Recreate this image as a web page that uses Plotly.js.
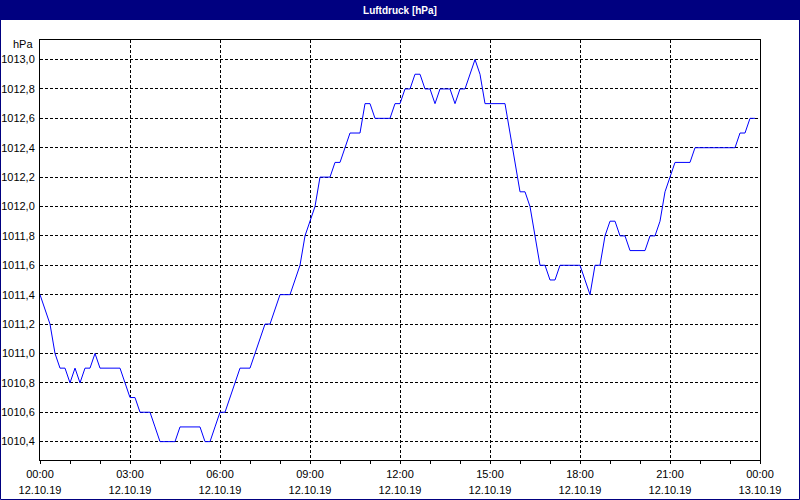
<!DOCTYPE html>
<html>
<head>
<meta charset="utf-8">
<script src="https://cdn.plot.ly/plotly-3.0.1.min.js"></script>
<style>
html,body{margin:0;padding:0;background:#ffffff;}
#chart{width:800px;height:500px;}
</style>
</head>
<body>
<div id="chart"></div>
<script>
// Luftdruck (hPa), one reading every 10 minutes, 12.10.19 00:00 .. 23:50
const startDay = '2019-10-12';
const endDay = '2019-10-13';
const stepMinutes = 10;
const pressure = [
  1011.4, 1011.3, 1011.2, 1011.0, 1010.9, 1010.9, 1010.8, 1010.9, 1010.8, 1010.9,
  1010.9, 1011.0, 1010.9, 1010.9, 1010.9, 1010.9, 1010.9, 1010.8, 1010.7, 1010.7,
  1010.6, 1010.6, 1010.6, 1010.5, 1010.4, 1010.4, 1010.4, 1010.4, 1010.5, 1010.5,
  1010.5, 1010.5, 1010.5, 1010.4, 1010.4, 1010.5, 1010.6, 1010.6, 1010.7, 1010.8,
  1010.9, 1010.9, 1010.9, 1011.0, 1011.1, 1011.2, 1011.2, 1011.3, 1011.4, 1011.4,
  1011.4, 1011.5, 1011.6, 1011.8, 1011.9, 1012.0, 1012.2, 1012.2, 1012.2, 1012.3,
  1012.3, 1012.4, 1012.5, 1012.5, 1012.5, 1012.7, 1012.7, 1012.6, 1012.6, 1012.6,
  1012.6, 1012.7, 1012.7, 1012.8, 1012.8, 1012.9, 1012.9, 1012.8, 1012.8, 1012.7,
  1012.8, 1012.8, 1012.8, 1012.7, 1012.8, 1012.8, 1012.9, 1013.0, 1012.9, 1012.7,
  1012.7, 1012.7, 1012.7, 1012.7, 1012.5, 1012.3, 1012.1, 1012.1, 1012.0, 1011.8,
  1011.6, 1011.6, 1011.5, 1011.5, 1011.6, 1011.6, 1011.6, 1011.6, 1011.6, 1011.5,
  1011.4, 1011.6, 1011.6, 1011.8, 1011.9, 1011.9, 1011.8, 1011.8, 1011.7, 1011.7,
  1011.7, 1011.7, 1011.8, 1011.8, 1011.9, 1012.1, 1012.2, 1012.3, 1012.3, 1012.3,
  1012.3, 1012.4, 1012.4, 1012.4, 1012.4, 1012.4, 1012.4, 1012.4, 1012.4, 1012.4,
  1012.5, 1012.5, 1012.6, 1012.6
];
const titleText = 'Luftdruck [hPa]';
const unitLabel = 'hPa';

function pad(n){return (n<10?'0':'')+n;}
const times = pressure.map(function(_, i){
  const m = i*stepMinutes;
  return startDay + ' ' + pad(Math.floor(m/60)) + ':' + pad(m%60);
});

const W = 800, H = 500, L = 40, R = 40, T = 40, B = 40;
const pw = W-L-R, ph = H-T-B;
function px(x){return (x-L)/pw;}
function py(y){return (H-B-y)/ph;}

const font = {family: '"Liberation Sans Narrow", "Liberation Sans", Arial, sans-serif', size: 11, color: '#000000'};
const xr = [startDay + ' 00:00', endDay + ' 00:00'];

const traces = [
  {x: times, y: pressure, type: 'scatter', mode: 'lines', line: {color: '#0000ff', width: 1}, hoverinfo: 'skip', showlegend: false},
  {x: times, y: pressure, xaxis: 'x2', type: 'scatter', mode: 'lines', line: {color: 'rgba(0,0,0,0)', width: 0}, opacity: 0, hoverinfo: 'skip', showlegend: false}
];

const layout = {
  width: W, height: H,
  margin: {l: L, r: R, t: T, b: B, pad: 0},
  paper_bgcolor: '#ffffff',
  plot_bgcolor: '#ffffff',
  separators: ',.',
  font: font,
  showlegend: false,
  hovermode: false,
  title: {text: titleText, font: {family: font.family, size: 10, color: '#ffffff', weight: 'bold'}, xref: 'container', x: 0.5, xanchor: 'center', yref: 'container', y: 1 - 10/H, yanchor: 'middle'},
  xaxis: {
    type: 'date', range: xr, fixedrange: true,
    tick0: startDay + ' 00:00', dtick: 3*3600*1000, tickformat: '%H:%M',
    ticks: 'outside', ticklen: 3, tickcolor: '#000000', tickwidth: 1,
    ticklabelstandoff: 1,
    showgrid: true, gridcolor: '#000000', gridwidth: 1, griddash: '3px,2px',
    showline: true, linecolor: '#000000', linewidth: 1, mirror: true,
    zeroline: false, tickfont: font,
    minor: {dtick: 3600*1000, ticks: 'outside', ticklen: 3, tickcolor: '#000000', tickwidth: 1, showgrid: false}
  },
  xaxis2: {
    type: 'date', range: xr, overlaying: 'x', anchor: 'y', side: 'bottom', fixedrange: true,
    tick0: startDay + ' 00:00', dtick: 3*3600*1000, tickformat: '%d.%m.%y',
    ticks: '', ticklabelstandoff: 22,
    showgrid: false, showline: false, zeroline: false, tickfont: font
  },
  yaxis: {
    range: [1010.275, 1013.133], fixedrange: true,
    tick0: 1010.4, dtick: 0.2, tickformat: '.1f',
    ticks: '', ticklabelstandoff: 2,
    showgrid: true, gridcolor: '#000000', gridwidth: 1, griddash: '3px,2px',
    showline: true, linecolor: '#000000', linewidth: 1, mirror: true,
    zeroline: false, tickfont: font
  },
  shapes: [
    {type: 'rect', xref: 'paper', yref: 'paper', x0: px(0), x1: px(800), y0: py(20), y1: py(0), fillcolor: '#000080', line: {width: 0}, layer: 'below'},
    {type: 'rect', xref: 'paper', yref: 'paper', x0: px(0.5), x1: px(799.5), y0: py(499.5), y1: py(0.5), fillcolor: 'rgba(0,0,0,0)', line: {color: '#000080', width: 1}}
  ],
  annotations: [
    {text: unitLabel, xref: 'paper', yref: 'paper', x: px(35), y: py(44), xanchor: 'right', yanchor: 'middle', showarrow: false, font: font}
  ]
};

Plotly.newPlot('chart', traces, layout, {staticPlot: true, displayModeBar: false});
</script>
</body>
</html>
